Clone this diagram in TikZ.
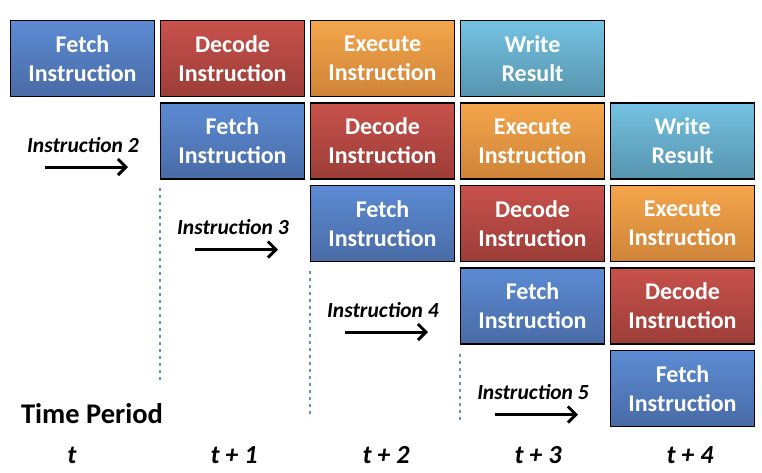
\documentclass[tikz,border=0pt]{standalone}
\usepackage{fontspec}
\setmainfont{Carlito}
\usepackage{xcolor}
\usepackage{tikz}
\usetikzlibrary{positioning,calc,arrows.meta}

\definecolor{fetchtop}{HTML}{5C8BD3}
\definecolor{fetchbot}{HTML}{496BA6}
\definecolor{decodetop}{HTML}{C8514B}
\definecolor{decodebot}{HTML}{9C3D38}
\definecolor{exectop}{HTML}{F4A64B}
\definecolor{execbot}{HTML}{CF8337}
\definecolor{writetop}{HTML}{74C2E2}
\definecolor{writebot}{HTML}{5794AE}
\definecolor{dotblue}{HTML}{6E8DC2}

\tikzset{
    stage/.style={draw=black, line width=1.8pt, minimum width=144pt, minimum height=76pt,
        inner sep=0pt, align=center, text=white,
        font=\bfseries\fontsize{24}{29}\selectfont},
    fetch/.style={stage, top color=fetchtop, bottom color=fetchbot},
    decode/.style={stage, top color=decodetop, bottom color=decodebot},
    execute/.style={stage, top color=exectop, bottom color=execbot},
    writeres/.style={stage, top color=writetop, bottom color=writebot},
    instr/.style={font=\bfseries\itshape\fontsize{21.5}{25}\selectfont, inner sep=0pt},
    period/.style={font=\bfseries\itshape\fontsize{26}{30}\selectfont, inner sep=0pt},
    flow/.style={line width=3pt, -{Straight Barb[length=8pt,width=16pt]}},
    slot/.style={dotblue, line width=2.6pt, dash pattern=on 3pt off 4pt}
}

\begin{document}
\begin{tikzpicture}[x=1pt, y=-1pt]
    \useasboundingbox (0,0) rectangle (762,472);

    % Fetch
    \foreach \r in {0,...,4}
        \node[fetch] (f\r) at ({82.5+150*\r}, {58.5+82.5*\r}) {Fetch\\Instruction};
    % Decode
    \foreach \r in {0,...,3}
        \node[decode] (d\r) at ({232.5+150*\r}, {58.5+82.5*\r}) {Decode\\Instruction};
    % Execute
    \foreach \r in {0,...,2}
        \node[execute] (e\r) at ({382.5+150*\r}, {58.5+82.5*\r}) {Execute\\Instruction};
    % Write Result
    \foreach \r in {0,1}
        \node[writeres] (w\r) at ({532.5+150*\r}, {58.5+82.5*\r}) {Write\\Result};

    % instructions entering the pipeline
    \foreach \k in {2,...,5} {
        \node[instr, anchor=base] (in\k) at ({83+150*(\k-2)}, {152+82.5*(\k-2)}) {Instruction \k};
        \coordinate (as\k) at ({45+150*(\k-2)}, {167+82.5*(\k-2)});
        \coordinate (ae\k) at ({128+150*(\k-2)}, {167+82.5*(\k-2)});
        \draw[flow] (as\k) -- (ae\k);
    }

    % time slot separators
    \coordinate (s1) at (160,188);  \coordinate (t1) at (160,383);
    \coordinate (s2) at (310,271);  \coordinate (t2) at (310,418);
    \coordinate (s3) at (460,354);  \coordinate (t3) at (460,420);
    \foreach \i in {1,2,3}
        \draw[slot] (s\i) -- (t\i);

    % time axis
    \node[anchor=base, font=\bfseries\fontsize{28.5}{32}\selectfont, inner sep=0pt] (tp) at (92,423) {Time Period};
    \foreach \x/\val in {72/t, 234/t + 1, 386/t + 2, 538/t + 3, 690/t + 4}
        \node[period, anchor=base] at (\x, 463) {\val};
\end{tikzpicture}
\end{document}
